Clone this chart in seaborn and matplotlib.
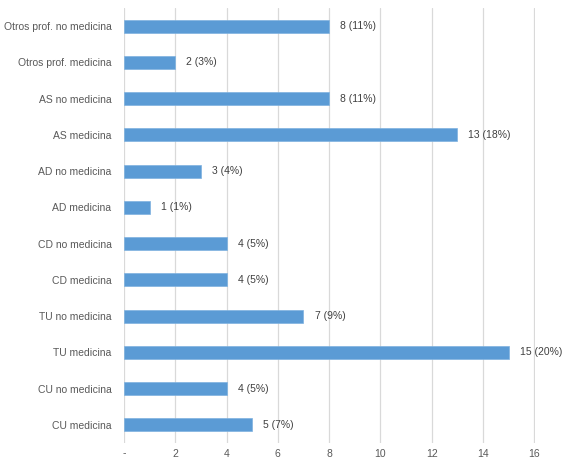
import matplotlib
matplotlib.use('Agg')
import matplotlib.pyplot as plt
import seaborn as sns
import pandas as pd

# categories top to bottom
categories = ['Otros prof. no medicina', 'Otros prof. medicina', 'AS no medicina',
              'AS medicina', 'AD no medicina', 'AD medicina', 'CD no medicina',
              'CD medicina', 'TU no medicina', 'TU medicina', 'CU no medicina',
              'CU medicina']
counts = [8, 2, 8, 13, 3, 1, 4, 4, 7, 15, 4, 5]
percents = [11, 3, 11, 18, 4, 1, 5, 5, 9, 20, 5, 7]
x_ticks = [0, 2, 4, 6, 8, 10, 12, 14, 16]
x_tick_labels = ['-', '2', '4', '6', '8', '10', '12', '14', '16']

df = pd.DataFrame({'categoria': categories, 'n': counts, 'pct': percents})

sns.set_style('white')
plt.rcParams['font.family'] = ['Liberation Sans', 'DejaVu Sans']

fig = plt.figure(figsize=(5.62, 4.61), dpi=100)
ax = fig.add_axes([0.2206, 0.039, 0.7314, 0.9436])

sns.barplot(data=df, x='n', y='categoria', orient='h', color='#5B9BD5',
            saturation=1, width=0.36, edgecolor='#7FB2E0', linewidth=0.5,
            ax=ax, zorder=3)

for i, row in df.iterrows():
    ax.annotate(f"{row['n']} ({row['pct']}%)", xy=(row['n'], i),
                xytext=(8, 0), textcoords='offset points', va='center',
                ha='left', fontsize=7.5, color='#404040')

ax.set_xlim(0, 16.03)
ax.set_ylim(11.5, -0.5)
ax.set_xticks(x_ticks)
ax.set_xticklabels(x_tick_labels)
ax.xaxis.grid(True, color='#D9D9D9', linewidth=0.9)
ax.set_axisbelow(True)
ax.tick_params(axis='x', length=0, pad=4, labelsize=7.5, colors='#595959')
ax.tick_params(axis='y', length=0, pad=9, labelsize=7.5, colors='#595959')
ax.set_xlabel('')
ax.set_ylabel('')
for s in ax.spines.values():
    s.set_visible(False)

plt.savefig('out.png', dpi=100)
plt.close()
